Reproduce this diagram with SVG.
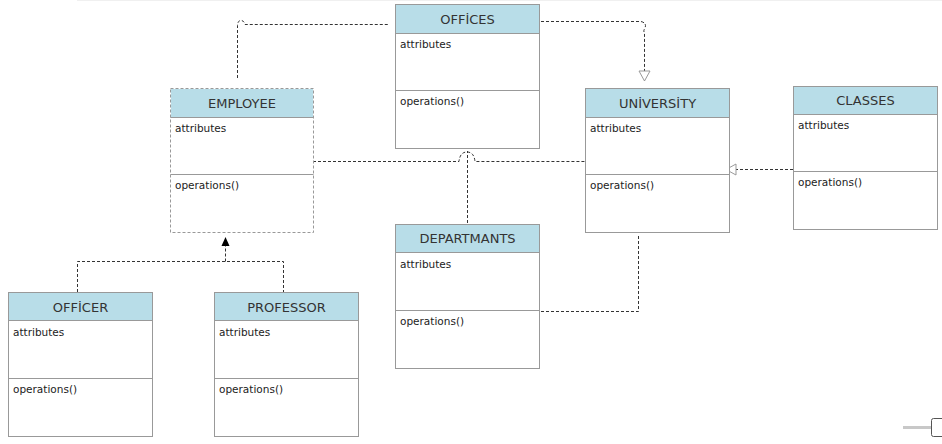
<svg xmlns="http://www.w3.org/2000/svg" width="942" height="444" viewBox="0 0 942 444">
<style>
.box{fill:#ffffff;stroke:#999999;stroke-width:1}
.dbox{fill:#ffffff;stroke:#999999;stroke-width:1;stroke-dasharray:3 2}
.hdr{fill:#b8dde8;stroke:none}
.sep{stroke:#999999;stroke-width:1}
.title{font-family:"DejaVu Sans",Verdana,sans-serif;font-size:13px;fill:#333333;text-anchor:middle}
.txt{font-family:"DejaVu Sans",Verdana,sans-serif;font-size:10.5px;fill:#222222}
.con{fill:none;stroke:#333333;stroke-width:1;stroke-dasharray:3 2}
</style>
<defs>
<marker id="hollow" viewBox="0 0 12 14" refX="11" refY="7" markerWidth="12" markerHeight="14" markerUnits="userSpaceOnUse" orient="auto">
<path d="M1,1.5 L11,7 L1,12.5 Z" fill="#ffffff" stroke="#999999" stroke-width="1"/>
</marker>
<marker id="filled" viewBox="0 0 10 10" refX="9" refY="5" markerWidth="10" markerHeight="10" markerUnits="userSpaceOnUse" orient="auto">
<path d="M0,1 L9,5 L0,9 Z" fill="#000000"/>
</marker>
</defs>
<line x1="77" y1="0.5" x2="942" y2="0.5" stroke="#f0f0f0" stroke-width="1"/>
<g id="connectors">
<path class="con" d="M237.5,78 L237.5,26 Q237.5,20.5 241,20.5 Q244,20.5 245,24.5 L388,24.5"/>
<path class="con" d="M541,21.5 L641,21.5 Q647,23 645,28 Q643,31 644.5,33 L644.5,81" marker-end="url(#hollow)"/>
<path class="con" d="M313,161.5 L459,161.5 Q460,152 467,152 Q474,152 475,161.5 L585,161.5"/>
<path class="con" d="M467.5,223 L467.5,151"/>
<path class="con" d="M793,169.5 L726,169.5" marker-end="url(#hollow)"/>
<path class="con" d="M77.5,292 L77.5,261.5 L283.5,261.5 L283.5,292"/>
<path class="con" d="M225.5,261.5 L225.5,237" marker-end="url(#filled)"/>
<path class="con" d="M638.5,236 L638.5,311.5 L540,311.5"/>
</g>
<g id="offices">
<rect class="box" x="395.5" y="4.5" width="144" height="144"/>
<rect class="hdr" x="396" y="5" width="143" height="28"/>
<line class="sep" x1="395.5" y1="33.5" x2="539.5" y2="33.5"/>
<line class="sep" x1="395.5" y1="90.5" x2="539.5" y2="90.5"/>
<text class="title" x="467.5" y="23.5">OFFİCES</text>
<text class="txt" x="400" y="48">attributes</text>
<text class="txt" x="400" y="105">operations()</text>
</g>
<g id="employee">
<rect class="dbox" x="170.5" y="88.5" width="143" height="144"/>
<rect class="hdr" x="171" y="89" width="142" height="28"/>
<line class="sep" x1="170.5" y1="117.5" x2="313.5" y2="117.5"/>
<line class="sep" x1="170.5" y1="174.5" x2="313.5" y2="174.5"/>
<text class="title" x="242" y="107.5">EMPLOYEE</text>
<text class="txt" x="175" y="132">attributes</text>
<text class="txt" x="175" y="189">operations()</text>
</g>
<g id="university">
<rect class="box" x="585.5" y="88.5" width="144" height="144"/>
<rect class="hdr" x="586" y="89" width="143" height="28"/>
<line class="sep" x1="585.5" y1="117.5" x2="729.5" y2="117.5"/>
<line class="sep" x1="585.5" y1="174.5" x2="729.5" y2="174.5"/>
<text class="title" x="657.5" y="107.5">UNİVERSİTY</text>
<text class="txt" x="590" y="132">attributes</text>
<text class="txt" x="590" y="189">operations()</text>
</g>
<g id="classes">
<rect class="box" x="793.5" y="86.5" width="144" height="143"/>
<rect class="hdr" x="794" y="87" width="143" height="27"/>
<line class="sep" x1="793.5" y1="114.5" x2="937.5" y2="114.5"/>
<line class="sep" x1="793.5" y1="171.5" x2="937.5" y2="171.5"/>
<text class="title" x="865.5" y="105">CLASSES</text>
<text class="txt" x="798" y="129">attributes</text>
<text class="txt" x="798" y="186">operations()</text>
</g>
<g id="departmants">
<rect class="box" x="395.5" y="224.5" width="144" height="144"/>
<rect class="hdr" x="396" y="225" width="143" height="27"/>
<line class="sep" x1="395.5" y1="252.5" x2="539.5" y2="252.5"/>
<line class="sep" x1="395.5" y1="310.5" x2="539.5" y2="310.5"/>
<text class="title" x="467.5" y="243">DEPARTMANTS</text>
<text class="txt" x="400" y="268">attributes</text>
<text class="txt" x="400" y="325">operations()</text>
</g>
<g id="officer">
<rect class="box" x="8.5" y="292.5" width="144" height="144"/>
<rect class="hdr" x="9" y="293" width="143" height="27"/>
<line class="sep" x1="8.5" y1="320.5" x2="152.5" y2="320.5"/>
<line class="sep" x1="8.5" y1="378.5" x2="152.5" y2="378.5"/>
<text class="title" x="80.5" y="311.5">OFFİCER</text>
<text class="txt" x="13" y="336">attributes</text>
<text class="txt" x="13" y="393">operations()</text>
</g>
<g id="professor">
<rect class="box" x="214.5" y="292.5" width="144" height="144"/>
<rect class="hdr" x="215" y="293" width="143" height="27"/>
<line class="sep" x1="214.5" y1="320.5" x2="358.5" y2="320.5"/>
<line class="sep" x1="214.5" y1="378.5" x2="358.5" y2="378.5"/>
<text class="title" x="286.5" y="311.5">PROFESSOR</text>
<text class="txt" x="219" y="336">attributes</text>
<text class="txt" x="219" y="393">operations()</text>
</g>
<g id="slider">
<line x1="903" y1="427.5" x2="932" y2="427.5" stroke="#c8c8c8" stroke-width="3"/>
<rect x="931.5" y="418.5" width="14" height="18" rx="2" fill="#ffffff" stroke="#555555" stroke-width="1"/>
</g>
</svg>
